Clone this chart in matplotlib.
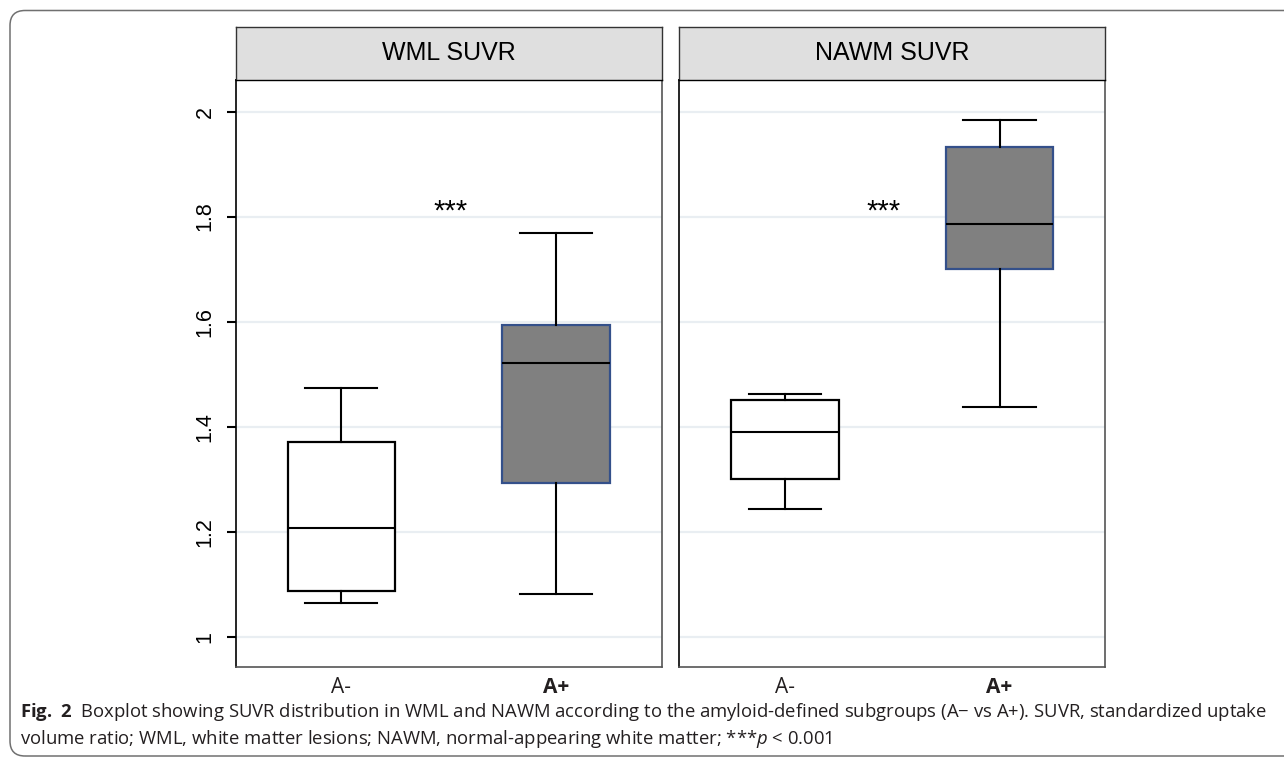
import numpy as np
import matplotlib
matplotlib.use('Agg')
import matplotlib.pyplot as plt
from matplotlib import font_manager
from matplotlib.patches import FancyBboxPatch
from matplotlib.transforms import IdentityTransform

# data: whisker low, Q1, median, Q3, whisker high
panels = ['WML SUVR', 'NAWM SUVR']
groups = ['A-', 'A+']
wml_neg = [1.065, 1.087, 1.208, 1.371, 1.474]
wml_pos = [1.082, 1.292, 1.521, 1.594, 1.768]
nawm_neg = [1.244, 1.301, 1.389, 1.451, 1.462]
nawm_pos = [1.438, 1.700, 1.786, 1.933, 1.984]
sig = ['***', '***']
sig_x = [0.51, 0.46]
sig_y = 1.795
yticks = [1, 1.2, 1.4, 1.6, 1.8, 2]
ytick_labels = ['1', '1.2', '1.4', '1.6', '1.8', '2']
caption1 = (r'$\mathbf{Fig.\ 2}$  Boxplot showing SUVR distribution in WML and NAWM according to the '
	'amyloid-defined subgroups (A\u2212 vs A+). SUVR, standardized uptake')
caption2 = r'volume ratio; WML, white matter lesions; NAWM, normal-appearing white matter; ***$p$ < 0.001'

def pick(names):
	for n in names:
		try:
			font_manager.findfont(n, fallback_to_default=False)
			return n
		except ValueError:
			continue
	return 'DejaVu Sans'

plot_font = pick(['Liberation Sans', 'Arial'])
cap_font = pick(['Liberation Sans Narrow', 'Open Sans', 'Lato'])
plt.rcParams['font.family'] = [plot_font, 'DejaVu Sans']
plt.rcParams['mathtext.fontset'] = 'custom'
plt.rcParams['mathtext.rm'] = cap_font
plt.rcParams['mathtext.it'] = cap_font + ':italic'
plt.rcParams['mathtext.bf'] = cap_font + ':bold'

W, H = 1284, 761
fx = lambda p: p / W
fy = lambda p: 1 - p / H

fig = plt.figure(figsize=(W / 100, H / 100), dpi=100)

# rounded frame around figure + caption
fig.patches.append(FancyBboxPatch((10, 5), 1400, 745.5, boxstyle='round,pad=0,rounding_size=15',
	transform=IdentityTransform(), fill=False, ec='#707070', lw=1.1))

lefts = [235.7, 679.3]
right_off = 426.2
top, bottom, strip_top = 80, 666.7, 27
series = [[wml_neg, wml_pos], [nawm_neg, nawm_pos]]
faces = ['white', '#808080']
edges = ['black', '#34508a']

for i, l in enumerate(lefts):
	ax = fig.add_axes([fx(l), fy(bottom), right_off / W, (bottom - top) / H])
	stats = [dict(whislo=s[0], q1=s[1], med=s[2], q3=s[3], whishi=s[4], fliers=[]) for s in series[i]]
	art = ax.bxp(stats, positions=[0, 1], widths=0.5, capwidths=0.336, patch_artist=True, showfliers=False,
		medianprops=dict(color='black', lw=1.5, zorder=3),
		whiskerprops=dict(color='black', lw=1.5, zorder=3),
		capprops=dict(color='black', lw=1.5, zorder=3))
	for b, fc, ec in zip(art['boxes'], faces, edges):
		b.set_facecolor(fc)
		b.set_edgecolor(ec)
		b.set_linewidth(1.6)
		b.set_zorder(2)
	ax.set_axisbelow(True)
	ax.set_xlim(-0.4925, 1.494)
	ax.set_ylim(0.943, 2.06)
	ax.set_yticks(yticks)
	ax.grid(axis='y', color='#e9eef2', lw=1.6)
	ax.set_xticks([0, 1])
	ax.set_xticklabels([])
	ax.tick_params(axis='x', length=0)
	if i == 0:
		ax.set_yticklabels(ytick_labels, rotation=90, va='center', fontsize=15.5)
		ax.tick_params(axis='y', length=6.5, width=1.5, pad=8)
	else:
		ax.set_yticklabels([])
		ax.tick_params(axis='y', length=0)
	ax.spines['left'].set_color('black')
	for sp in ['bottom', 'right']:
		ax.spines[sp].set_color('#555555')
	for sp in ax.spines.values():
		sp.set_linewidth(1.2)
	ax.spines['top'].set_color('black')
	ax.text(sig_x[i], sig_y, sig[i], ha='center', va='baseline', fontsize=21)
	# group labels
	for k, g in enumerate(groups):
		ax.text(k, -0.036, g, transform=ax.get_xaxis_transform(), ha='center', va='center',
			fontsize=15, family=cap_font, fontweight='bold' if k == 1 else 'normal', color='#231f20')
	# strip
	sx = fig.add_axes([fx(l), fy(top), right_off / W, (top - strip_top) / H])
	sx.set_facecolor('#dfdfdf')
	sx.set_xticks([])
	sx.set_yticks([])
	for sp in sx.spines.values():
		sp.set_color('#333333')
		sp.set_linewidth(1.0)
	sx.spines['bottom'].set_color('black')
	sx.text(0.5, 0.5, panels[i], ha='center', va='center', fontsize=18, transform=sx.transAxes)

# caption, sized to fill the line width
r = fig.canvas.get_renderer()
t1 = fig.text(fx(20), fy(717), caption1, fontsize=14, family=cap_font, color='#231f20', va='baseline')
w = t1.get_window_extent(r).width
size = 14 * 1250 / w
t1.set_fontsize(size)
fig.text(fx(20), fy(743.5), caption2, fontsize=size, family=cap_font, color='#231f20', va='baseline')

fig.savefig('out.png', dpi=100)
